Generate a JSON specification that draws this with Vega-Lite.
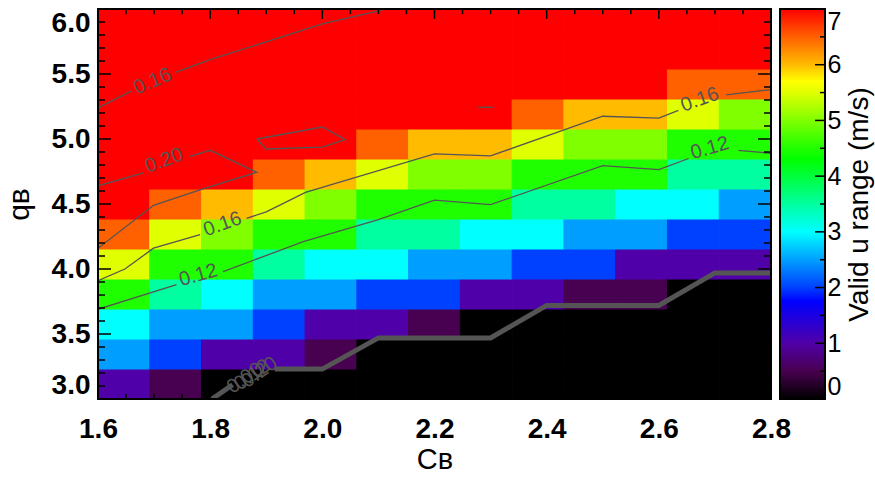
{
  "$schema": "https://vega.github.io/schema/vega-lite/v6.json",
  "background": "white",
  "padding": {"left": 4, "top": 8, "right": 2, "bottom": 0},
  "bounds": "flush",
  "spacing": 9,
  "config": {
    "font": "Liberation Sans",
    "view": {"stroke": null},
    "axis": {"labelColor": "black", "titleColor": "black", "grid": false, "domain": false, "ticks": false, "labelOverlap": false}
  },
  "datasets": {
    "grid": [
      {"cb":1.6,"qb":3,"v":1},{"cb":1.7,"qb":3,"v":0.5},{"cb":1.8,"qb":3,"v":0},{"cb":1.9,"qb":3,"v":0},{"cb":2.0,"qb":3,"v":0},{"cb":2.1,"qb":3,"v":0},{"cb":2.2,"qb":3,"v":0},{"cb":2.3,"qb":3,"v":0},{"cb":2.4,"qb":3,"v":0},{"cb":2.5,"qb":3,"v":0},{"cb":2.6,"qb":3,"v":0},{"cb":2.7,"qb":3,"v":0},{"cb":2.8,"qb":3,"v":0},
      {"cb":1.6,"qb":3.25,"v":2.5},{"cb":1.7,"qb":3.25,"v":2},{"cb":1.8,"qb":3.25,"v":1},{"cb":1.9,"qb":3.25,"v":1},{"cb":2.0,"qb":3.25,"v":0.5},{"cb":2.1,"qb":3.25,"v":0},{"cb":2.2,"qb":3.25,"v":0},{"cb":2.3,"qb":3.25,"v":0},{"cb":2.4,"qb":3.25,"v":0},{"cb":2.5,"qb":3.25,"v":0},{"cb":2.6,"qb":3.25,"v":0},{"cb":2.7,"qb":3.25,"v":0},{"cb":2.8,"qb":3.25,"v":0},
      {"cb":1.6,"qb":3.5,"v":3},{"cb":1.7,"qb":3.5,"v":2.5},{"cb":1.8,"qb":3.5,"v":2.5},{"cb":1.9,"qb":3.5,"v":2},{"cb":2.0,"qb":3.5,"v":1},{"cb":2.1,"qb":3.5,"v":1},{"cb":2.2,"qb":3.5,"v":0.5},{"cb":2.3,"qb":3.5,"v":0},{"cb":2.4,"qb":3.5,"v":0},{"cb":2.5,"qb":3.5,"v":0},{"cb":2.6,"qb":3.5,"v":0},{"cb":2.7,"qb":3.5,"v":0},{"cb":2.8,"qb":3.5,"v":0},
      {"cb":1.6,"qb":3.75,"v":4.5},{"cb":1.7,"qb":3.75,"v":3.5},{"cb":1.8,"qb":3.75,"v":3},{"cb":1.9,"qb":3.75,"v":2.5},{"cb":2.0,"qb":3.75,"v":2.5},{"cb":2.1,"qb":3.75,"v":2},{"cb":2.2,"qb":3.75,"v":2},{"cb":2.3,"qb":3.75,"v":1},{"cb":2.4,"qb":3.75,"v":1},{"cb":2.5,"qb":3.75,"v":0.5},{"cb":2.6,"qb":3.75,"v":0.5},{"cb":2.7,"qb":3.75,"v":0},{"cb":2.8,"qb":3.75,"v":0},
      {"cb":1.6,"qb":4,"v":5.5},{"cb":1.7,"qb":4,"v":4.5},{"cb":1.8,"qb":4,"v":4.5},{"cb":1.9,"qb":4,"v":3.5},{"cb":2.0,"qb":4,"v":3},{"cb":2.1,"qb":4,"v":3},{"cb":2.2,"qb":4,"v":2.5},{"cb":2.3,"qb":4,"v":2.5},{"cb":2.4,"qb":4,"v":2},{"cb":2.5,"qb":4,"v":2},{"cb":2.6,"qb":4,"v":1},{"cb":2.7,"qb":4,"v":1},{"cb":2.8,"qb":4,"v":1},
      {"cb":1.6,"qb":4.25,"v":6.5},{"cb":1.7,"qb":4.25,"v":5.5},{"cb":1.8,"qb":4.25,"v":5},{"cb":1.9,"qb":4.25,"v":4.5},{"cb":2.0,"qb":4.25,"v":4.5},{"cb":2.1,"qb":4.25,"v":3.5},{"cb":2.2,"qb":4.25,"v":3.5},{"cb":2.3,"qb":4.25,"v":3},{"cb":2.4,"qb":4.25,"v":3},{"cb":2.5,"qb":4.25,"v":2.5},{"cb":2.6,"qb":4.25,"v":2.5},{"cb":2.7,"qb":4.25,"v":2},{"cb":2.8,"qb":4.25,"v":2},
      {"cb":1.6,"qb":4.5,"v":7},{"cb":1.7,"qb":4.5,"v":6.5},{"cb":1.8,"qb":4.5,"v":6},{"cb":1.9,"qb":4.5,"v":5.5},{"cb":2.0,"qb":4.5,"v":5},{"cb":2.1,"qb":4.5,"v":4.5},{"cb":2.2,"qb":4.5,"v":4.5},{"cb":2.3,"qb":4.5,"v":4.5},{"cb":2.4,"qb":4.5,"v":3.5},{"cb":2.5,"qb":4.5,"v":3.5},{"cb":2.6,"qb":4.5,"v":3},{"cb":2.7,"qb":4.5,"v":3},{"cb":2.8,"qb":4.5,"v":2.5},
      {"cb":1.6,"qb":4.75,"v":7},{"cb":1.7,"qb":4.75,"v":7},{"cb":1.8,"qb":4.75,"v":7},{"cb":1.9,"qb":4.75,"v":6.5},{"cb":2.0,"qb":4.75,"v":6},{"cb":2.1,"qb":4.75,"v":5.5},{"cb":2.2,"qb":4.75,"v":5},{"cb":2.3,"qb":4.75,"v":5},{"cb":2.4,"qb":4.75,"v":4.5},{"cb":2.5,"qb":4.75,"v":4.5},{"cb":2.6,"qb":4.75,"v":4.5},{"cb":2.7,"qb":4.75,"v":3.5},{"cb":2.8,"qb":4.75,"v":3.5},
      {"cb":1.6,"qb":5,"v":7},{"cb":1.7,"qb":5,"v":7},{"cb":1.8,"qb":5,"v":7},{"cb":1.9,"qb":5,"v":7},{"cb":2.0,"qb":5,"v":7},{"cb":2.1,"qb":5,"v":6.5},{"cb":2.2,"qb":5,"v":6},{"cb":2.3,"qb":5,"v":6},{"cb":2.4,"qb":5,"v":5.5},{"cb":2.5,"qb":5,"v":5},{"cb":2.6,"qb":5,"v":5},{"cb":2.7,"qb":5,"v":4.5},{"cb":2.8,"qb":5,"v":4.5},
      {"cb":1.6,"qb":5.25,"v":7},{"cb":1.7,"qb":5.25,"v":7},{"cb":1.8,"qb":5.25,"v":7},{"cb":1.9,"qb":5.25,"v":7},{"cb":2.0,"qb":5.25,"v":7},{"cb":2.1,"qb":5.25,"v":7},{"cb":2.2,"qb":5.25,"v":7},{"cb":2.3,"qb":5.25,"v":7},{"cb":2.4,"qb":5.25,"v":6.5},{"cb":2.5,"qb":5.25,"v":6},{"cb":2.6,"qb":5.25,"v":6},{"cb":2.7,"qb":5.25,"v":5.5},{"cb":2.8,"qb":5.25,"v":5},
      {"cb":1.6,"qb":5.5,"v":7},{"cb":1.7,"qb":5.5,"v":7},{"cb":1.8,"qb":5.5,"v":7},{"cb":1.9,"qb":5.5,"v":7},{"cb":2.0,"qb":5.5,"v":7},{"cb":2.1,"qb":5.5,"v":7},{"cb":2.2,"qb":5.5,"v":7},{"cb":2.3,"qb":5.5,"v":7},{"cb":2.4,"qb":5.5,"v":7},{"cb":2.5,"qb":5.5,"v":7},{"cb":2.6,"qb":5.5,"v":7},{"cb":2.7,"qb":5.5,"v":6.5},{"cb":2.8,"qb":5.5,"v":6.5},
      {"cb":1.6,"qb":5.75,"v":7},{"cb":1.7,"qb":5.75,"v":7},{"cb":1.8,"qb":5.75,"v":7},{"cb":1.9,"qb":5.75,"v":7},{"cb":2.0,"qb":5.75,"v":7},{"cb":2.1,"qb":5.75,"v":7},{"cb":2.2,"qb":5.75,"v":7},{"cb":2.3,"qb":5.75,"v":7},{"cb":2.4,"qb":5.75,"v":7},{"cb":2.5,"qb":5.75,"v":7},{"cb":2.6,"qb":5.75,"v":7},{"cb":2.7,"qb":5.75,"v":7},{"cb":2.8,"qb":5.75,"v":7},
      {"cb":1.6,"qb":6,"v":7},{"cb":1.7,"qb":6,"v":7},{"cb":1.8,"qb":6,"v":7},{"cb":1.9,"qb":6,"v":7},{"cb":2.0,"qb":6,"v":7},{"cb":2.1,"qb":6,"v":7},{"cb":2.2,"qb":6,"v":7},{"cb":2.3,"qb":6,"v":7},{"cb":2.4,"qb":6,"v":7},{"cb":2.5,"qb":6,"v":7},{"cb":2.6,"qb":6,"v":7},{"cb":2.7,"qb":6,"v":7},{"cb":2.8,"qb":6,"v":7}
    ],
    "contours": [
      {"seg":"A1","k":0,"x":1.6,"y":5.24},{"seg":"A1","k":1,"x":1.66,"y":5.37},
      {"seg":"A2","k":0,"x":1.737,"y":5.51},{"seg":"A2","k":1,"x":1.8,"y":5.61},{"seg":"A2","k":2,"x":2.0,"y":5.885},{"seg":"A2","k":3,"x":2.1,"y":5.985},{"seg":"A2","k":4,"x":2.12,"y":6.01},
      {"seg":"B1","k":0,"x":1.6,"y":4.64},{"seg":"B1","k":1,"x":1.681,"y":4.74},
      {"seg":"B2","k":0,"x":1.764,"y":4.867},{"seg":"B2","k":1,"x":1.8,"y":4.913},{"seg":"B2","k":2,"x":1.883,"y":4.744},{"seg":"B2","k":3,"x":1.786,"y":4.615},{"seg":"B2","k":4,"x":1.699,"y":4.49},{"seg":"B2","k":5,"x":1.6,"y":4.16},
      {"seg":"C1","k":0,"x":1.6,"y":3.91},{"seg":"C1","k":1,"x":1.648,"y":4.0},{"seg":"C1","k":2,"x":1.699,"y":4.16},{"seg":"C1","k":3,"x":1.782,"y":4.265},
      {"seg":"C2","k":0,"x":1.865,"y":4.39},{"seg":"C2","k":1,"x":1.9,"y":4.44},{"seg":"C2","k":2,"x":1.97,"y":4.59},{"seg":"C2","k":3,"x":2.2,"y":4.885},{"seg":"C2","k":4,"x":2.3,"y":4.87},{"seg":"C2","k":5,"x":2.5,"y":5.175},{"seg":"C2","k":6,"x":2.6,"y":5.16},{"seg":"C2","k":7,"x":2.635,"y":5.22},
      {"seg":"C3","k":0,"x":2.72,"y":5.34},{"seg":"C3","k":1,"x":2.8,"y":5.38},
      {"seg":"D1","k":0,"x":1.6,"y":3.69},{"seg":"D1","k":1,"x":1.74,"y":3.88},
      {"seg":"D2","k":0,"x":1.823,"y":3.98},{"seg":"D2","k":1,"x":1.966,"y":4.21},{"seg":"D2","k":2,"x":2.1,"y":4.38},{"seg":"D2","k":3,"x":2.2,"y":4.53},{"seg":"D2","k":4,"x":2.3,"y":4.495},{"seg":"D2","k":5,"x":2.5,"y":4.795},{"seg":"D2","k":6,"x":2.6,"y":4.765},{"seg":"D2","k":7,"x":2.653,"y":4.85},
      {"seg":"D3","k":0,"x":2.742,"y":4.913},{"seg":"D3","k":1,"x":2.8,"y":4.89},
      {"seg":"E","k":0,"x":1.883,"y":5.0},{"seg":"E","k":1,"x":2.0,"y":5.092},{"seg":"E","k":2,"x":2.041,"y":4.995},{"seg":"E","k":3,"x":2.0,"y":4.938},{"seg":"E","k":4,"x":1.9,"y":4.923},{"seg":"E","k":5,"x":1.883,"y":5.0},
      {"seg":"F","k":0,"x":2.278,"y":5.244},{"seg":"F","k":1,"x":2.305,"y":5.244}
    ],
    "bound": [
      {"seg":"G1","k":0,"x":1.8,"y":2.99},{"seg":"G1","k":1,"x":1.84,"y":3.11},
      {"seg":"G2","k":0,"x":1.915,"y":3.23},{"seg":"G2","k":1,"x":2.0,"y":3.23},{"seg":"G2","k":2,"x":2.1,"y":3.47},{"seg":"G2","k":3,"x":2.3,"y":3.47},{"seg":"G2","k":4,"x":2.4,"y":3.72},{"seg":"G2","k":5,"x":2.6,"y":3.72},{"seg":"G2","k":6,"x":2.7,"y":3.97},{"seg":"G2","k":7,"x":2.8,"y":3.97}
    ],
    "labels": [
      {"g":"a","x":1.6975,"y":5.444,"t":"0.16"},
      {"g":"b","x":1.718,"y":4.834,"t":"0.20"},
      {"g":"b","x":1.822,"y":4.345,"t":"0.16"},
      {"g":"b","x":2.673,"y":5.303,"t":"0.16"},
      {"g":"d","x":1.779,"y":3.952,"t":"0.12"},
      {"g":"d","x":2.691,"y":4.93,"t":"0.12"},
      {"g":"j","x":1.862,"y":3.16,"t":"0.00"},
      {"g":"j","x":1.875,"y":3.185,"t":"0.12"},
      {"g":"j","x":1.888,"y":3.205,"t":"0.20"}
    ],
    "xt": [
      {"v":1.6,"m":1},{"v":1.65,"m":0},{"v":1.7,"m":0},{"v":1.75,"m":0},{"v":1.8,"m":1},{"v":1.85,"m":0},{"v":1.9,"m":0},{"v":1.95,"m":0},
      {"v":2.0,"m":1},{"v":2.05,"m":0},{"v":2.1,"m":0},{"v":2.15,"m":0},{"v":2.2,"m":1},{"v":2.25,"m":0},{"v":2.3,"m":0},{"v":2.35,"m":0},
      {"v":2.4,"m":1},{"v":2.45,"m":0},{"v":2.5,"m":0},{"v":2.55,"m":0},{"v":2.6,"m":1},{"v":2.65,"m":0},{"v":2.7,"m":0},{"v":2.75,"m":0},{"v":2.8,"m":1}
    ],
    "yt": [
      {"v":3.0,"m":1},{"v":3.1,"m":0},{"v":3.2,"m":0},{"v":3.3,"m":0},{"v":3.4,"m":0},{"v":3.5,"m":1},{"v":3.6,"m":0},{"v":3.7,"m":0},{"v":3.8,"m":0},{"v":3.9,"m":0},
      {"v":4.0,"m":1},{"v":4.1,"m":0},{"v":4.2,"m":0},{"v":4.3,"m":0},{"v":4.4,"m":0},{"v":4.5,"m":1},{"v":4.6,"m":0},{"v":4.7,"m":0},{"v":4.8,"m":0},{"v":4.9,"m":0},
      {"v":5.0,"m":1},{"v":5.1,"m":0},{"v":5.2,"m":0},{"v":5.3,"m":0},{"v":5.4,"m":0},{"v":5.5,"m":1},{"v":5.6,"m":0},{"v":5.7,"m":0},{"v":5.8,"m":0},{"v":5.9,"m":0},{"v":6.0,"m":1}
    ],
    "ct": [
      {"v":0,"m":1},{"v":0.5,"m":0},{"v":1,"m":1},{"v":1.5,"m":0},{"v":2,"m":1},{"v":2.5,"m":0},{"v":3,"m":1},{"v":3.5,"m":0},
      {"v":4,"m":1},{"v":4.5,"m":0},{"v":5,"m":1},{"v":5.5,"m":0},{"v":6,"m":1},{"v":6.5,"m":0},{"v":7,"m":1}
    ],
    "bar": [{"lo":0,"hi":7}]
  },
  "hconcat": [
    {
      "width": 673,
      "height": 390,
      "layer": [
        {
          "data": {"name": "grid"},
          "mark": {"type": "rect", "strokeWidth": 1},
          "encoding": {
            "x": {"field": "cb", "type": "ordinal", "scale": {"paddingInner": 0, "paddingOuter": 0, "round": false}, "axis": null},
            "y": {"field": "qb", "type": "ordinal", "sort": "descending", "scale": {"paddingInner": 0, "paddingOuter": 0, "round": false}, "axis": null},
            "color": {
              "field": "v", "type": "quantitative", "legend": null,
              "scale": {"domain": [0,0.5,1,1.75,2,2.5,3,3.5,4.3,4.5,5,5.5,5.7,6,6.5,7],
                        "range": ["#000000","#480050","#5000a8","#0000ff","#0040ff","#009fff","#00ffff","#00ffa0","#00ff00","#20ff00","#80ff00","#e0ff00","#ffff00","#ffbb00","#ff6000","#ff0000"],
                        "interpolate": "rgb"}
            },
            "stroke": {
              "field": "v", "type": "quantitative", "legend": null,
              "scale": {"domain": [0,0.5,1,1.75,2,2.5,3,3.5,4.3,4.5,5,5.5,5.7,6,6.5,7],
                        "range": ["#000000","#480050","#5000a8","#0000ff","#0040ff","#009fff","#00ffff","#00ffa0","#00ff00","#20ff00","#80ff00","#e0ff00","#ffff00","#ffbb00","#ff6000","#ff0000"],
                        "interpolate": "rgb"}
            }
          }
        },
        {
          "layer": [
            {
              "data": {"name": "contours"},
              "mark": {"type": "line", "color": "#555555", "strokeWidth": 1.3, "clip": true},
              "encoding": {
                "x": {"field": "x", "type": "quantitative", "scale": {"domain": [1.6, 2.8], "nice": false, "zero": false},
                      "axis": {"orient": "bottom", "values": [1.6,1.8,2.0,2.2,2.4,2.6,2.8], "format": ".1f",
                               "labelFlush": false, "labelFontSize": 28, "labelFontWeight": "bold", "labelPadding": 16,
                               "title": "Cʙ", "titleFontSize": 29, "titleFontWeight": "normal", "titlePadding": 2}},
                "y": {"field": "y", "type": "quantitative", "scale": {"domain": [3, 6], "nice": false, "zero": false},
                      "axis": {"orient": "left", "values": [3,3.5,4,4.5,5,5.5,6], "format": ".1f",
                               "labelFlush": true, "labelFontSize": 28, "labelFontWeight": "bold", "labelPadding": 8,
                               "title": "qʙ", "titleFontSize": 30, "titleFontWeight": "normal", "titlePadding": 17}},
                "detail": {"field": "seg"},
                "order": {"field": "k"}
              }
            },
            {
              "data": {"name": "bound"},
              "mark": {"type": "line", "color": "#555555", "strokeWidth": 5, "clip": true},
              "encoding": {
                "x": {"field": "x", "type": "quantitative", "scale": {"domain": [1.6, 2.8], "nice": false, "zero": false}, "axis": null},
                "y": {"field": "y", "type": "quantitative", "scale": {"domain": [3, 6], "nice": false, "zero": false}, "axis": null},
                "detail": {"field": "seg"},
                "order": {"field": "k"}
              }
            },
            {
              "data": {"name": "labels"},
              "transform": [{"filter": "datum.g == 'a'"}],
              "mark": {"type": "text", "angle": -23, "fontSize": 20, "color": "#555555", "clip": true},
              "encoding": {
                "x": {"field": "x", "type": "quantitative", "scale": {"domain": [1.6, 2.8], "nice": false, "zero": false}, "axis": null},
                "y": {"field": "y", "type": "quantitative", "scale": {"domain": [3, 6], "nice": false, "zero": false}, "axis": null},
                "text": {"field": "t"}
              }
            },
            {
              "data": {"name": "labels"},
              "transform": [{"filter": "datum.g == 'b'"}],
              "mark": {"type": "text", "angle": -20, "fontSize": 20, "color": "#555555", "clip": true},
              "encoding": {
                "x": {"field": "x", "type": "quantitative", "scale": {"domain": [1.6, 2.8], "nice": false, "zero": false}, "axis": null},
                "y": {"field": "y", "type": "quantitative", "scale": {"domain": [3, 6], "nice": false, "zero": false}, "axis": null},
                "text": {"field": "t"}
              }
            },
            {
              "data": {"name": "labels"},
              "transform": [{"filter": "datum.g == 'd'"}],
              "mark": {"type": "text", "angle": -16, "fontSize": 20, "color": "#555555", "clip": true},
              "encoding": {
                "x": {"field": "x", "type": "quantitative", "scale": {"domain": [1.6, 2.8], "nice": false, "zero": false}, "axis": null},
                "y": {"field": "y", "type": "quantitative", "scale": {"domain": [3, 6], "nice": false, "zero": false}, "axis": null},
                "text": {"field": "t"}
              }
            },
            {
              "data": {"name": "labels"},
              "transform": [{"filter": "datum.g == 'j'"}],
              "mark": {"type": "text", "angle": -35, "fontSize": 20, "color": "#555555", "clip": true},
              "encoding": {
                "x": {"field": "x", "type": "quantitative", "scale": {"domain": [1.6, 2.8], "nice": false, "zero": false}, "axis": null},
                "y": {"field": "y", "type": "quantitative", "scale": {"domain": [3, 6], "nice": false, "zero": false}, "axis": null},
                "text": {"field": "t"}
              }
            }
          ],
          "resolve": {"axis": {"x": "independent", "y": "independent"}}
        },
        {
          "layer": [
            {
              "data": {"name": "xt"},
              "transform": [{"filter": "datum.m == 1"}],
              "mark": {"type": "rule", "color": "black", "strokeWidth": 1.5},
              "encoding": {
                "x": {"field": "v", "type": "quantitative", "scale": {"domain": [1.6, 2.8], "nice": false, "zero": false}, "axis": null},
                "y": {"datum": 3, "type": "quantitative", "scale": {"domain": [3, 6], "nice": false, "zero": false}, "axis": null},
                "y2": {"datum": 3.077}
              }
            },
            {
              "data": {"name": "xt"},
              "transform": [{"filter": "datum.m == 0"}],
              "mark": {"type": "rule", "color": "black", "strokeWidth": 1.5},
              "encoding": {
                "x": {"field": "v", "type": "quantitative", "scale": {"domain": [1.6, 2.8], "nice": false, "zero": false}, "axis": null},
                "y": {"datum": 3, "type": "quantitative", "scale": {"domain": [3, 6], "nice": false, "zero": false}, "axis": null},
                "y2": {"datum": 3.04}
              }
            },
            {
              "data": {"name": "xt"},
              "transform": [{"filter": "datum.m == 1"}],
              "mark": {"type": "rule", "color": "black", "strokeWidth": 1.5},
              "encoding": {
                "x": {"field": "v", "type": "quantitative", "scale": {"domain": [1.6, 2.8], "nice": false, "zero": false}, "axis": null},
                "y": {"datum": 6, "type": "quantitative", "scale": {"domain": [3, 6], "nice": false, "zero": false}, "axis": null},
                "y2": {"datum": 5.923}
              }
            },
            {
              "data": {"name": "xt"},
              "transform": [{"filter": "datum.m == 0"}],
              "mark": {"type": "rule", "color": "black", "strokeWidth": 1.5},
              "encoding": {
                "x": {"field": "v", "type": "quantitative", "scale": {"domain": [1.6, 2.8], "nice": false, "zero": false}, "axis": null},
                "y": {"datum": 6, "type": "quantitative", "scale": {"domain": [3, 6], "nice": false, "zero": false}, "axis": null},
                "y2": {"datum": 5.96}
              }
            },
            {
              "data": {"name": "yt"},
              "transform": [{"filter": "datum.m == 1"}],
              "mark": {"type": "rule", "color": "black", "strokeWidth": 1.5},
              "encoding": {
                "y": {"field": "v", "type": "quantitative", "scale": {"domain": [3, 6], "nice": false, "zero": false}, "axis": null},
                "x": {"datum": 1.6, "type": "quantitative", "scale": {"domain": [1.6, 2.8], "nice": false, "zero": false}, "axis": null},
                "x2": {"datum": 1.6232}
              }
            },
            {
              "data": {"name": "yt"},
              "transform": [{"filter": "datum.m == 0"}],
              "mark": {"type": "rule", "color": "black", "strokeWidth": 1.5},
              "encoding": {
                "y": {"field": "v", "type": "quantitative", "scale": {"domain": [3, 6], "nice": false, "zero": false}, "axis": null},
                "x": {"datum": 1.6, "type": "quantitative", "scale": {"domain": [1.6, 2.8], "nice": false, "zero": false}, "axis": null},
                "x2": {"datum": 1.6125}
              }
            },
            {
              "data": {"name": "yt"},
              "transform": [{"filter": "datum.m == 1"}],
              "mark": {"type": "rule", "color": "black", "strokeWidth": 1.5},
              "encoding": {
                "y": {"field": "v", "type": "quantitative", "scale": {"domain": [3, 6], "nice": false, "zero": false}, "axis": null},
                "x": {"datum": 2.8, "type": "quantitative", "scale": {"domain": [1.6, 2.8], "nice": false, "zero": false}, "axis": null},
                "x2": {"datum": 2.7768}
              }
            },
            {
              "data": {"name": "yt"},
              "transform": [{"filter": "datum.m == 0"}],
              "mark": {"type": "rule", "color": "black", "strokeWidth": 1.5},
              "encoding": {
                "y": {"field": "v", "type": "quantitative", "scale": {"domain": [3, 6], "nice": false, "zero": false}, "axis": null},
                "x": {"datum": 2.8, "type": "quantitative", "scale": {"domain": [1.6, 2.8], "nice": false, "zero": false}, "axis": null},
                "x2": {"datum": 2.7875}
              }
            },
            {
              "data": {"name": "bar"},
              "mark": {"type": "rect", "fill": null, "stroke": "black", "strokeWidth": 2},
              "encoding": {
                "x": {"datum": 1.6, "type": "quantitative", "scale": {"domain": [1.6, 2.8], "nice": false, "zero": false}, "axis": null},
                "x2": {"datum": 2.8},
                "y": {"datum": 3, "type": "quantitative", "scale": {"domain": [3, 6], "nice": false, "zero": false}, "axis": null},
                "y2": {"datum": 6}
              }
            }
          ]
        }
      ],
      "resolve": {"scale": {"x": "independent", "y": "independent"}}
    },
    {
      "width": 45,
      "height": 390,
      "layer": [
        {
          "data": {"name": "bar"},
          "mark": {"type": "rect", "fill": {"gradient": "linear", "x1": 0, "y1": 1, "x2": 0, "y2": 0,
            "stops": [
              {"offset": 0, "color": "#000000"},
              {"offset": 0.0714, "color": "#480050"},
              {"offset": 0.1429, "color": "#5000a8"},
              {"offset": 0.25, "color": "#0000ff"},
              {"offset": 0.2857, "color": "#0040ff"},
              {"offset": 0.3571, "color": "#009fff"},
              {"offset": 0.4286, "color": "#00ffff"},
              {"offset": 0.5, "color": "#00ffa0"},
              {"offset": 0.6143, "color": "#00ff00"},
              {"offset": 0.6429, "color": "#20ff00"},
              {"offset": 0.7143, "color": "#80ff00"},
              {"offset": 0.7857, "color": "#e0ff00"},
              {"offset": 0.8143, "color": "#ffff00"},
              {"offset": 0.8571, "color": "#ffbb00"},
              {"offset": 0.9286, "color": "#ff6000"},
              {"offset": 1, "color": "#ff0000"}
            ]}},
          "encoding": {
            "x": {"datum": 0, "type": "quantitative", "scale": {"domain": [0, 1], "nice": false, "zero": false}, "axis": null},
            "x2": {"datum": 1},
            "y": {"field": "lo", "type": "quantitative", "scale": {"domain": [0, 7], "nice": false, "zero": false},
                  "axis": {"orient": "right", "values": [0,1,2,3,4,5,6,7], "format": "d",
                           "labelFlush": true, "labelFontSize": 25, "labelPadding": 2,
                           "title": "Valid u range (m/s)", "titleAngle": 270, "titleBaseline": "top", "titleFontSize": 28, "titleFontWeight": "normal", "titlePadding": 5}},
            "y2": {"field": "hi"}
          }
        },
        {
          "layer": [
            {
              "data": {"name": "ct"},
              "transform": [{"filter": "datum.m == 1"}],
              "mark": {"type": "rule", "color": "black", "strokeWidth": 1.5},
              "encoding": {
                "x": {"datum": 1, "type": "quantitative", "scale": {"domain": [0, 1], "nice": false, "zero": false}, "axis": null},
                "x2": {"datum": 0.778},
                "y": {"field": "v", "type": "quantitative", "scale": {"domain": [0, 7], "nice": false, "zero": false}, "axis": null}
              }
            },
            {
              "data": {"name": "ct"},
              "transform": [{"filter": "datum.m == 0"}],
              "mark": {"type": "rule", "color": "black", "strokeWidth": 1.5},
              "encoding": {
                "x": {"datum": 1, "type": "quantitative", "scale": {"domain": [0, 1], "nice": false, "zero": false}, "axis": null},
                "x2": {"datum": 0.889},
                "y": {"field": "v", "type": "quantitative", "scale": {"domain": [0, 7], "nice": false, "zero": false}, "axis": null}
              }
            },
            {
              "data": {"name": "bar"},
              "mark": {"type": "rect", "fill": null, "stroke": "black", "strokeWidth": 2},
              "encoding": {
                "x": {"datum": 0, "type": "quantitative", "scale": {"domain": [0, 1], "nice": false, "zero": false}, "axis": null},
                "x2": {"datum": 1},
                "y": {"field": "lo", "type": "quantitative", "scale": {"domain": [0, 7], "nice": false, "zero": false}, "axis": null},
                "y2": {"field": "hi"}
              }
            }
          ]
        }
      ],
      "resolve": {"scale": {"x": "independent", "y": "independent"}}
    }
  ]
}
